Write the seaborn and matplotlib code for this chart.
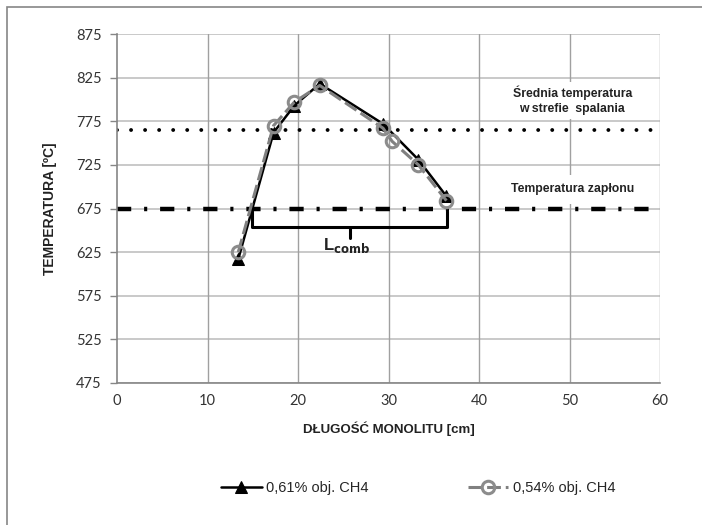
import numpy as np
import pandas as pd
import seaborn as sns
import matplotlib.pyplot as plt
from matplotlib.patches import Rectangle

# =========================
# Data
# =========================
x_061 = [13.4, 17.3, 19.6, 22.4, 29.4, 33.3, 36.4]
t_061 = [617, 762, 793, 818, 772, 731, 689]

x_054 = [13.4, 17.3, 19.6, 22.4, 29.4, 30.4, 33.3, 36.4]
t_054 = [625, 770, 797, 816, 767, 752, 725, 684]

t_avg = 765      # srednia temperatura w strefie spalania
t_ign = 675      # temperatura zaplonu
l_comb = [14.9, 36.5]

x_ticks = [0, 10, 20, 30, 40, 50, 60]
y_ticks = [475, 525, 575, 625, 675, 725, 775, 825, 875]

df1 = pd.DataFrame({'x': x_061, 'T': t_061})
df2 = pd.DataFrame({'x': x_054, 'T': t_054})

# =========================
# Plot
# =========================
sns.set_theme(style="white")
plt.rcParams['font.family'] = ['Liberation Sans', 'DejaVu Sans']

fig = plt.figure(figsize=(7.02, 5.25), dpi=100)
ax = fig.add_axes([117/702, 1-383/525, (660-117)/702, (383-34)/525])

# outer chart border (only top/left visible in the crop)
fig.patches.append(Rectangle((7/702, -0.1), 1.2, 1-7/525+0.1, transform=fig.transFigure,
                             fill=False, edgecolor='#868686', lw=1.2))

# grid
for yv in y_ticks:
    ax.axhline(yv, color='#c0c0c0', lw=1.2, zorder=0)
for xv in x_ticks[1:]:
    ax.axvline(xv, color='#a0a0a0', lw=1.0, zorder=0)

# reference lines
ax.axhline(t_avg, color='black', lw=2.8, ls=(0, (0.01, 3.6)), dash_capstyle='round', zorder=2)
ax.axhline(t_ign, color='black', lw=3.2, ls=(0, (3.2, 2.9, 0.7, 2.9)), zorder=2)

sns.lineplot(data=df2, x='x', y='T', ax=ax, color='#808080', lw=2.2,
             marker='o', markersize=9, markerfacecolor='none', markeredgecolor='#8c8c8c',
             markeredgewidth=2.2, label='0,54% obj. CH4', zorder=4)
ax.lines[-1].set_linestyle((0, (4.5, 1.6)))
sns.lineplot(data=df1, x='x', y='T', ax=ax, color='black', lw=1.8,
             marker='^', markersize=8, markeredgecolor='black',
             label='0,61% obj. CH4', zorder=3)

# L_comb bracket
y_top, y_br, y_tip = 672, 654, 641
xm = sum(l_comb) / 2
ax.plot([l_comb[0], l_comb[0], l_comb[1], l_comb[1]], [y_top, y_br, y_br, y_top],
        color='black', lw=2.2, solid_joinstyle='round', zorder=3)
ax.plot([xm, xm], [y_br, y_tip], color='black', lw=2.2, zorder=3)
ax.text(xm - 0.3, 633, r'L$_{\mathbf{comb}}$', ha='center', va='center', fontsize=12,
        fontweight='bold', color='#222222')

# annotations with white boxes
ax.text(50.3, 799, 'Średnia temperatura\nw strefie  spalania', ha='center', va='center',
        fontsize=8.8, fontweight='bold', color='#222222', linespacing=1.3,
        bbox=dict(facecolor='white', edgecolor='none', pad=3), zorder=5)
ax.text(50.3, 697, 'Temperatura zapłonu', ha='center', va='center',
        fontsize=8.8, fontweight='bold', color='#222222',
        bbox=dict(facecolor='white', edgecolor='none', pad=6), zorder=5)

# axes
ax.set_xlim(0, 60)
ax.set_ylim(475, 875)
ax.set_xticks(x_ticks)
ax.set_yticks(y_ticks)
for lab in ax.get_xticklabels() + ax.get_yticklabels():
    lab.set_family(['Lato', 'DejaVu Sans'])
    lab.set_fontsize(10.5)
    lab.set_color('#333333')
ax.tick_params(axis='y', length=5, color='#868686', width=1, pad=6, left=True)
ax.tick_params(axis='x', length=0, pad=8)
for s in ['top', 'right']:
    ax.spines[s].set_visible(False)
for s in ['left', 'bottom']:
    ax.spines[s].set_color('#868686')
    ax.spines[s].set_linewidth(1.2)

ax.set_xlabel('DŁUGOŚĆ MONOLITU [cm]', fontsize=9.5, fontweight='bold', labelpad=10, color='#222222')
ax.set_ylabel('TEMPERATURA [ºC]', fontsize=10, fontweight='bold', labelpad=14, color='#222222')

# legend at the bottom
h, l = ax.get_legend_handles_labels()
ax.legend([h[1], h[0]], [l[1], l[0]], loc='center', bbox_to_anchor=(418/702, 1 - 488/525),
          bbox_transform=fig.transFigure, ncol=2, frameon=False, fontsize=10.5,
          columnspacing=6.8, handlelength=2.8, handletextpad=0.3)

plt.savefig('out.png', dpi=100)
